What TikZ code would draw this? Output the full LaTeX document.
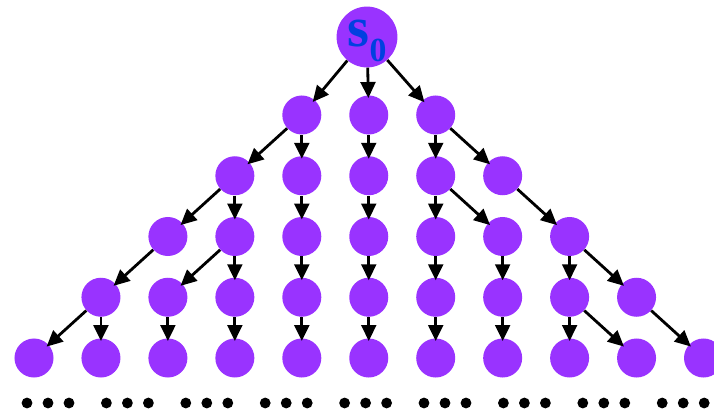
\documentclass[tikz,border=0pt]{standalone}
\usepackage{fontspec}
\setmainfont{Liberation Serif}
\usetikzlibrary{arrows.meta}
\definecolor{StatePurple}{HTML}{9933FF}
\definecolor{LabelBlue}{HTML}{0040E0}

\begin{document}
\begin{tikzpicture}[x=0.025cm, y=-0.025cm,
  state/.style={circle, fill=StatePurple, inner sep=0pt, minimum size=0.975cm},
  root/.style={state, minimum size=1.52cm, text=LabelBlue, text depth=5.6pt,
     font=\fontsize{40}{40}\selectfont\bfseries},
  move/.style={-{Triangle[length=0.4cm, width=0.37cm]}, line width=2pt,
     shorten >=-2pt},
  more/.style={circle, fill=black, inner sep=0pt, minimum size=0.27cm}]
  \useasboundingbox (0,0) rectangle (714,413);
  \node[root] (s) at (367,37)
     {s\raisebox{-10.6pt}[0pt][0pt]{\fontsize{24}{24}\selectfont 0}};
  % successor states: row r spans columns 5-r .. 5+r
  \foreach \r in {1,...,5}{
    \pgfmathtruncatemacro{\lo}{5-\r}
    \pgfmathtruncatemacro{\hi}{5+\r}
    \foreach \c in {\lo,...,\hi}{
      \node[state] (n\r-\c) at (34+66.95*\c, 115+60.75*\r-60.75) {};}}
  % moves
  \foreach \c in {4,5,6} \draw[move] (s) -- (n1-\c);
  \foreach \r/\c/\t in {1/4/3, 1/4/4, 1/5/5, 1/6/6, 1/6/7,
      2/3/2, 2/3/3, 2/4/4, 2/5/5, 2/6/6, 2/6/7, 2/7/8,
      3/2/1, 3/3/2, 3/3/3, 3/4/4, 3/5/5, 3/6/6, 3/7/7, 3/8/8, 3/8/9,
      4/1/0, 4/1/1, 4/2/2, 4/3/3, 4/4/4, 4/5/5, 4/6/6, 4/7/7, 4/8/8, 4/8/9, 4/9/10}{
    \pgfmathtruncatemacro{\nr}{\r+1}
    \draw[move] (n\r-\c) -- (n\nr-\t);}
  % continuation dots
  \foreach \g in {0,...,8}{\foreach \k in {0,1,2}{
      \node[more] (dot\g-\k) at (27+79.4*\g+21*\k, 403) {};}}
\end{tikzpicture}
\end{document}
